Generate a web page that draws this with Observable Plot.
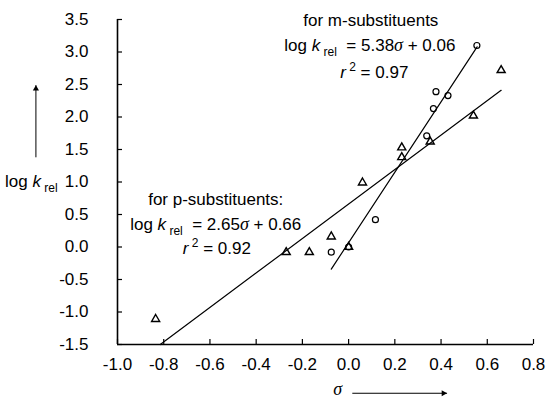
<!DOCTYPE html>
<html><head><meta charset="utf-8">
<script src="https://cdn.jsdelivr.net/npm/d3@7"></script>
<script src="https://cdn.jsdelivr.net/npm/@observablehq/plot@0.6"></script>
<style>body{margin:0;background:#fff}</style>
</head><body><div id="chart"></div>
<script>
// Tick values
const xTicks = [-1.0, -0.8, -0.6, -0.4, -0.2, 0.0, 0.2, 0.4, 0.6, 0.8];
const yTicks = [-1.5, -1.0, -0.5, 0.0, 0.5, 1.0, 1.5, 2.0, 2.5, 3.0, 3.5];

// p-substituents (triangles)
const pSigma = [-0.835, -0.27, -0.17, -0.075, 0.0, 0.06, 0.23, 0.23, 0.353, 0.54, 0.66];
const pLogK  = [-1.11, -0.08, -0.08, 0.16, 0.0, 0.99, 1.53, 1.38, 1.62, 2.02, 2.72];

// m-substituents (circles)
const mSigma = [-0.075, 0.0, 0.116, 0.338, 0.367, 0.378, 0.43, 0.555];
const mLogK  = [-0.08, 0.0, 0.42, 1.71, 2.13, 2.39, 2.33, 3.10];

// Fitted lines (end points as drawn)
const pFitSigma = [-0.815, 0.66];
const pFitLogK  = [-1.50, 2.41];
const mFitSigma = [-0.075, 0.556];
const mFitLogK  = [-0.34, 3.08];

// Annotation texts (segments: [text, style])
const annotations = [
  {x: 0.096, y: 3.49, parts: [["for m-substituents"]]},
  {x: 0.092, y: 3.10, parts: [["log "], ["k", "it"], [" rel", "sub"], ["  = 5.38"], ["σ", "sig"], [" + 0.06"]]},
  {x: 0.111, y: 2.69, parts: [["r", "it"], [" 2", "sup"], [" = 0.97"]]},
  {x: -0.575, y: 0.734, parts: [["for p-substituents:"]]},
  {x: -0.575, y: 0.35, parts: [["log "], ["k", "it"], [" rel", "sub"], ["  = 2.65"], ["σ", "sig"], [" + 0.66"]]},
  {x: -0.570, y: -0.02, parts: [["r", "it"], [" 2", "sup"], [" = 0.92"]]},
  {x: -1.373, y: 1.0, parts: [["log "], ["k", "it"], [" rel", "sub"]]},
  {x: -0.047, y: -2.19, parts: [["σ", "sig"]]}
];
const axisArrows = [
  {x1: -1.353, y1: 1.38, x2: -1.353, y2: 2.49},
  {x1: 0.016, y1: -2.25, x2: 0.426, y2: -2.25}
];

const pPts = pSigma.map((s, i) => ({s, k: pLogK[i]}));
const mPts = mSigma.map((s, i) => ({s, k: mLogK[i]}));
const pFit = pFitSigma.map((s, i) => ({s, k: pFitLogK[i]}));
const mFit = mFitSigma.map((s, i) => ({s, k: mFitLogK[i]}));

const W = 548, H = 399, mL = 117, mR = 15, mT = 19, mB = 55;
const frameW = W - mL - mR, frameH = H - mT - mB;
const fmt = d => d.toFixed(1);
const joined = a => a.parts.map(p => p[0]).join("");

const svg = Plot.plot({
  width: W, height: H,
  marginLeft: mL, marginRight: mR, marginTop: mT, marginBottom: mB,
  style: {fontFamily: "'Liberation Sans', Arial, sans-serif", fontSize: "17px", background: "#fff", color: "#000", overflow: "visible"},
  x: {domain: [-1.0, 0.8]},
  y: {domain: [-1.5, 3.5]},
  marks: [
    Plot.axisX({ticks: xTicks, tickFormat: fmt, tickSize: 0, tickPadding: 13, label: null, fontSize: 17}),
    Plot.axisY({ticks: yTicks, tickFormat: fmt, tickSize: 0, tickPadding: 29, label: null, fontSize: 17}),
    Plot.ruleX(xTicks, {insetTop: frameH - 5, stroke: "#000", strokeWidth: 1.2}),
    Plot.ruleY(yTicks, {insetRight: frameW - 5, stroke: "#000", strokeWidth: 1.2}),
    Plot.ruleX([-1.0], {stroke: "#000", strokeWidth: 1.6}),
    Plot.ruleY([-1.5], {stroke: "#000", strokeWidth: 1.6}),
    Plot.line(pFit, {x: "s", y: "k", stroke: "#000", strokeWidth: 1.2}),
    Plot.line(mFit, {x: "s", y: "k", stroke: "#000", strokeWidth: 1.2}),
    Plot.dot(pPts, {x: "s", y: "k", symbol: "triangle", r: 3, stroke: "#000", strokeWidth: 1.4, fill: "none"}),
    Plot.dot(mPts, {x: "s", y: "k", symbol: "circle", r: 3, stroke: "#000", strokeWidth: 1.2, fill: "none"}),
    Plot.text(annotations, {x: "x", y: "y", text: joined, textAnchor: "middle", fontSize: 17, fill: "#000"}),
    Plot.link(axisArrows, {x1: "x1", y1: "y1", x2: "x2", y2: "y2", stroke: "#000", strokeWidth: 1}),
    Plot.dot(axisArrows.slice(0, 1), {x: "x2", y: "y2", symbol: "triangle", r: 2.3, fill: "#000", stroke: "none", dy: 3.6}),
    Plot.dot(axisArrows.slice(1), {x: "x2", y: "y2", symbol: "triangle", r: 2.3, rotate: 90, fill: "#000", stroke: "none", dx: -3.6})
  ]
});

const byText = new Map(annotations.map(a => [joined(a), a]));
d3.select(svg).selectAll("text").each(function() {
  const a = byText.get(this.textContent);
  if (!a) return;
  const t = d3.select(this);
  while (this.firstChild) this.removeChild(this.firstChild);
  let shift = 0;
  for (const [str, st] of a.parts) {
    const ts = t.append("tspan").text(str);
    let target = 0;
    if (st === "it") ts.attr("font-style", "italic");
    if (st === "sig") ts.attr("font-style", "italic").attr("font-family", "'Liberation Serif', 'Times New Roman', serif").attr("font-size", 18);
    if (st === "sub") { ts.attr("font-size", 12); target = 5; }
    if (st === "sup") { ts.attr("font-size", 12); target = -7; }
    if (target !== shift) { ts.attr("dy", target - shift); shift = target; }
  }
});

document.getElementById("chart").appendChild(svg);
</script>
</body></html>
